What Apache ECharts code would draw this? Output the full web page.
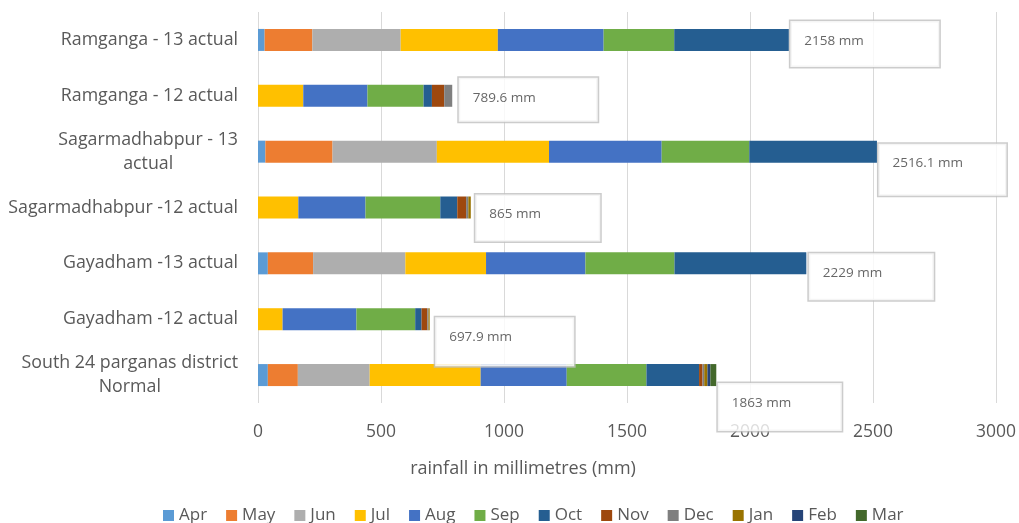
<!DOCTYPE html>
<html>
<head>
<meta charset="utf-8">
<script src="https://cdn.jsdelivr.net/npm/echarts@6/dist/echarts.min.js"></script>
<style>html,body{margin:0;padding:0;background:#fff}#c{width:1019px;height:523px}</style>
</head>
<body>
<div id="c"></div>
<script>
// ---- data ----
const categories = [
  "Ramganga - 13 actual",
  "Ramganga - 12 actual",
  "Sagarmadhabpur - 13\nactual",
  "Sagarmadhabpur -12 actual",
  "Gayadham -13 actual",
  "Gayadham -12 actual",
  "South 24 parganas district\nNormal"
];
const months = ["Apr","May","Jun","Jul","Aug","Sep","Oct","Nov","Dec","Jan","Feb","Mar"];
// values per month, one entry per category (top to bottom)
const apr = [27, 0, 30, 0, 40, 0, 40];
const may = [194, 0, 273, 0, 184, 0, 122];
const jun = [359, 0, 424, 0, 375, 0, 292];
const jul = [395, 184, 456, 164, 328, 100, 451];
const aug = [430, 261, 458, 273, 404, 300, 350];
const sep = [287, 228, 356, 304, 362, 239, 324];
const oct = [466, 34, 519.1, 69, 536, 26, 214];
const nov = [0, 50, 0, 36, 0, 23, 14];
const dec = [0, 32.6, 0, 9, 0, 5, 7];
const jan = [0, 0, 0, 10, 0, 4.9, 13];
const feb = [0, 0, 0, 0, 0, 0, 12];
const mar = [0, 0, 0, 0, 0, 0, 24];
const totals = [2158, 789.6, 2516.1, 865, 2229, 697.9, 1863];
const xTicks = [0, 500, 1000, 1500, 2000, 2500, 3000];

// ---- styles ----
const monthValues = [apr, may, jun, jul, aug, sep, oct, nov, dec, jan, feb, mar];
const colors = ["#5B9BD5","#ED7D31","#AEAEAE","#FFC000","#4472C4","#70AD47","#255E91","#9E480E","#7F7F7F","#997300","#264478","#43682B"];
// callout box placement relative to the bar end: [dx, dy, width, height]
const calloutLayout = [
  [2, -18.5, 149, 46],
  [7, -17.5, 139, 44],
  [2, -7.5, 128, 52],
  [5, -12.5, 125, 47],
  [3, -9.5, 125, 47],
  [6, -1.5, 139, 49],
  [2, 8.5, 124, 48]
];
const FONT = "Open Sans";
const TXT = "#595959";

const series = months.map((m, i) => ({
  name: m,
  type: "bar",
  stack: "total",
  barWidth: 22,
  itemStyle: { color: colors[i] },
  emphasis: { disabled: true },
  data: monthValues[i]
}));

series.push({
  name: "totals",
  type: "scatter",
  symbolSize: 1,
  itemStyle: { color: "rgba(0,0,0,0)" },
  silent: true,
  z: 10,
  data: totals.map((t, i) => {
    const L = calloutLayout[i];
    return {
      value: [t, categories[i]],
      label: {
        show: true,
        position: [L[0], L[1]],
        align: "left",
        verticalAlign: "top",
        formatter: t + " mm",
        fontFamily: FONT,
        fontSize: 13.5,
        color: "#404040",
        backgroundColor: "#fff",
        borderColor: "#BFBFBF",
        borderWidth: 1.5,
        padding: [12, 0, 0, 14],
        width: L[2] - 14,
        height: L[3] - 12,
        lineHeight: 16
      }
    };
  })
});

const chart = echarts.init(document.getElementById("c"), null, { renderer: "canvas" });
chart.setOption({
  animation: false,
  backgroundColor: "#fff",
  grid: { left: 258, right: 22, top: 12, height: 391, containLabel: false },
  legend: {
    data: months,
    left: 163,
    top: 507,
    padding: 0,
    itemWidth: 11,
    itemHeight: 11,
    itemGap: 19,
    icon: "rect",
    textStyle: { fontFamily: FONT, fontSize: 17, color: TXT },
    selectedMode: false
  },
  xAxis: {
    type: "value",
    min: xTicks[0],
    max: xTicks[xTicks.length - 1],
    interval: xTicks[1] - xTicks[0],
    axisLine: { show: false },
    axisTick: { show: false },
    splitLine: { show: true, lineStyle: { color: "#D9D9D9", width: 1 } },
    axisLabel: { margin: 20, fontFamily: FONT, fontSize: 17.5, color: TXT, formatter: v => String(v) },
    name: "rainfall in millimetres (mm)",
    nameLocation: "middle",
    nameGap: 57,
    nameTextStyle: { fontFamily: FONT, fontSize: 18, color: TXT, padding: [0, 208, 0, 0] }
  },
  yAxis: {
    type: "category",
    inverse: true,
    data: categories,
    axisLine: { show: false },
    axisTick: { show: false },
    splitLine: { show: false },
    axisLabel: {
      margin: 20,
      fontFamily: FONT,
      fontSize: 17.8,
      color: TXT,
      lineHeight: 24,
      formatter: v => v.split("\n").map(s => "{a|" + s + "}").join("\n"),
      rich: { a: { align: "center", fontFamily: FONT, fontSize: 17.8, color: TXT, lineHeight: 24 } }
    }
  },
  series: series
});
</script>
</body>
</html>
